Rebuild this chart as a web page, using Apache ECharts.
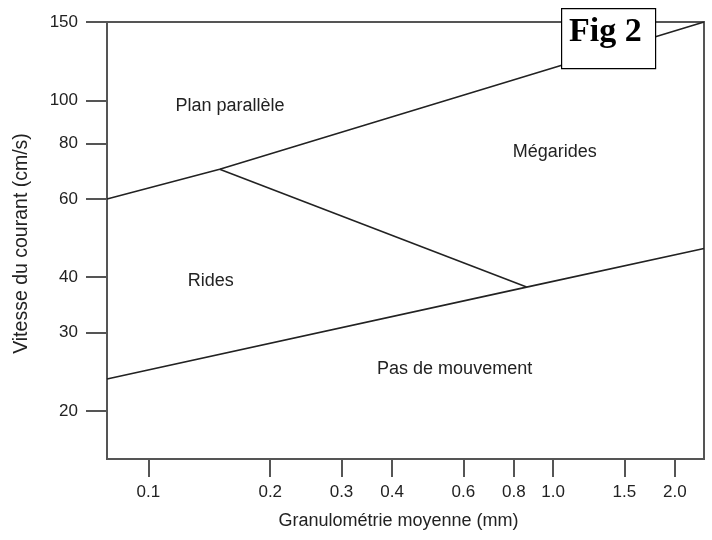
<!DOCTYPE html>
<html>
<head>
<meta charset="utf-8">
<script src="https://cdn.jsdelivr.net/npm/echarts@6/dist/echarts.min.js"></script>
<style>html,body{margin:0;padding:0;background:#fff;}#c{width:712px;height:540px;}</style>
</head>
<body>
<div id="c"></div>
<script>
var xTicks = [0.1, 0.2, 0.3, 0.4, 0.6, 0.8, 1.0, 1.5, 2.0];
var yTicks = [20, 30, 40, 60, 80, 100, 150];
var upperLine = [[0.079, 60], [0.15, 70], [2.36, 150]];
var ridgeLine = [[0.15, 70], [0.86, 38]];
var lowerLine = [[0.079, 23.6], [0.86, 38], [2.36, 46.4]];
var regionLabels = [
  {name: 'Plan parallèle', value: [0.159, 97]},
  {name: 'Mégarides', value: [1.01, 76.4]},
  {name: 'Rides', value: [0.1425, 39.2]},
  {name: 'Pas de mouvement', value: [0.571, 24.8]}
];
var xName = 'Granulométrie moyenne (mm)';
var yName = 'Vitesse du courant (cm/s)';
var figLabel = 'Fig 2';

var font = 'Liberation Sans, Arial, sans-serif';
var lineStyle = {color: '#222', width: 1.6};
function lineSeries(d) {
  return {type: 'line', data: d, symbol: 'none', lineStyle: lineStyle, silent: true, z: 3};
}
var chart = echarts.init(document.getElementById('c'), null, {renderer: 'canvas'});
chart.setOption({
  animation: false,
  backgroundColor: '#fff',
  grid: {left: 107, right: 8, top: 22, bottom: 81, show: true, borderColor: '#555', borderWidth: 2, backgroundColor: 'transparent'},
  xAxis: {
    type: 'log', logBase: 10, min: 0.079, max: 2.36,
    name: xName, nameLocation: 'middle', nameGap: 53,
    nameTextStyle: {fontFamily: font, fontSize: 18, color: '#222', padding: [0, 14, 0, 0]},
    axisLine: {show: true, lineStyle: {color: '#555', width: 2}},
    axisTick: {show: true, length: 18, customValues: xTicks, lineStyle: {color: '#555', width: 2}},
    axisLabel: {customValues: xTicks, margin: 25, fontFamily: font, fontSize: 17, color: '#222',
      formatter: function (v) { return Number(v).toFixed(1); }},
    minorTick: {show: false}, splitLine: {show: false}, minorSplitLine: {show: false}
  },
  yAxis: {
    type: 'log', logBase: 10, min: 15.6, max: 150,
    name: yName, nameLocation: 'middle', nameGap: 75,
    nameTextStyle: {fontFamily: font, fontSize: 19.5, color: '#222', padding: [0, 6, 0, 0]},
    axisLine: {show: true, lineStyle: {color: '#555', width: 2}},
    axisTick: {show: true, length: 21, customValues: yTicks, lineStyle: {color: '#555', width: 2}},
    axisLabel: {customValues: yTicks, margin: 29, fontFamily: font, fontSize: 17, color: '#222',
      formatter: function (v) { return String(Math.round(v)); }},
    minorTick: {show: false}, splitLine: {show: false}, minorSplitLine: {show: false}
  },
  series: [
    lineSeries(upperLine),
    lineSeries(ridgeLine),
    lineSeries(lowerLine),
    {
      type: 'scatter', data: regionLabels, symbolSize: 0, silent: true, z: 4,
      itemStyle: {opacity: 1},
      label: {show: true, position: 'inside', formatter: '{b}', fontFamily: font, fontSize: 18, color: '#222', opacity: 1, textBorderWidth: 0}
    }
  ],
  graphic: [
    {type: 'rect', left: 561, top: 8, shape: {width: 94, height: 60}, style: {fill: '#fff', stroke: '#000', lineWidth: 1.2}, z: 100},
    {type: 'text', left: 569, top: 15, style: {text: figLabel, font: 'bold 34px "Liberation Serif", "Times New Roman", serif', fill: '#000'}, z: 101}
  ]
});
</script>
</body>
</html>
